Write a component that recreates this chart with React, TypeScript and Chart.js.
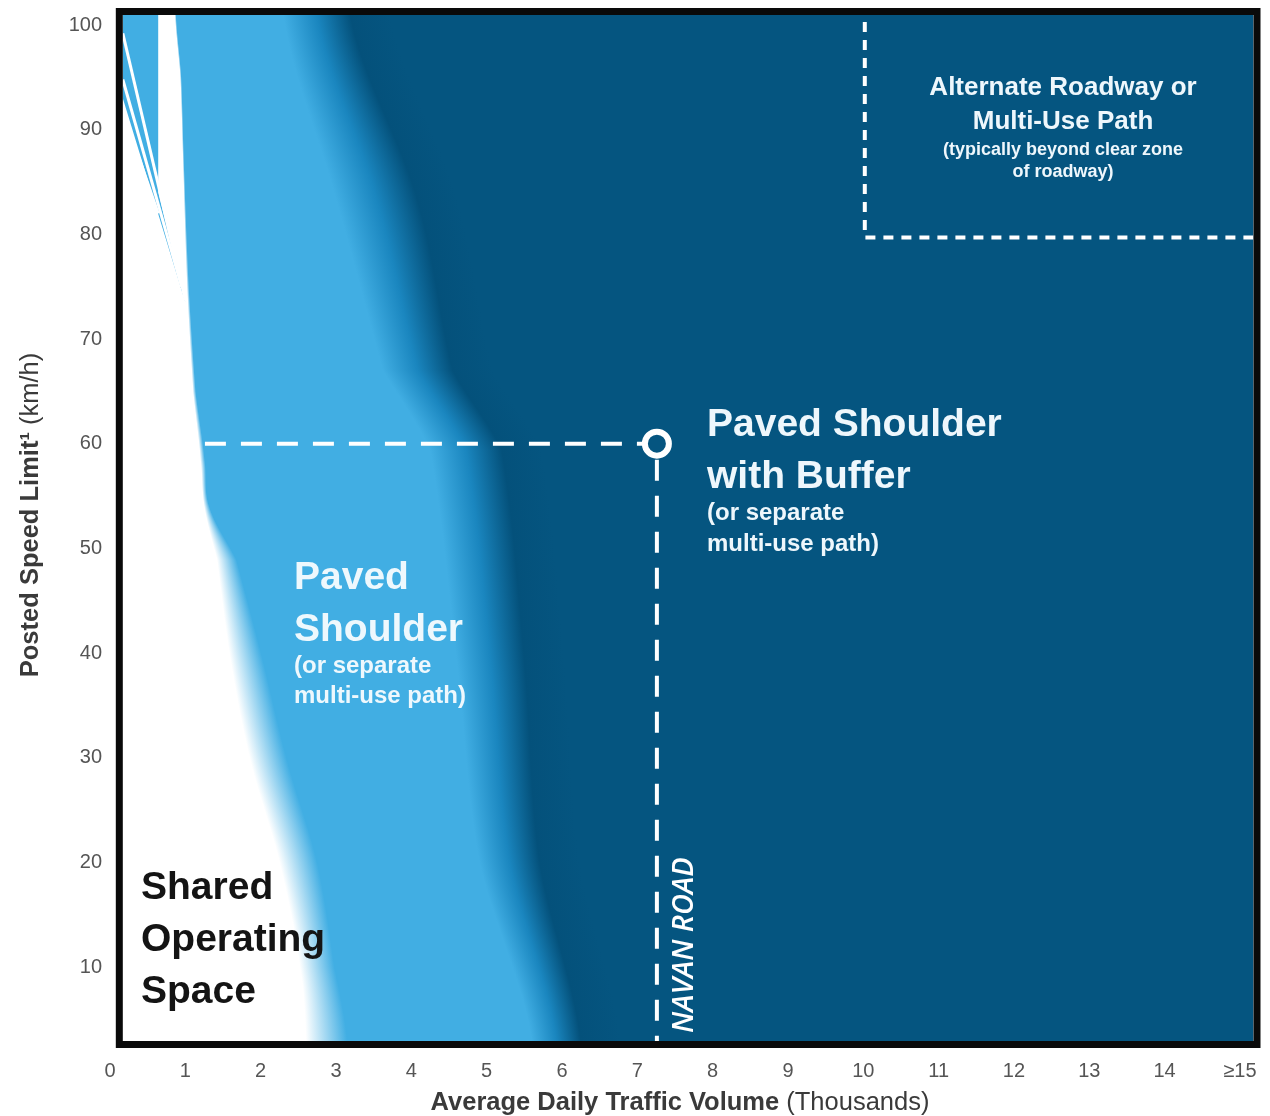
import React, { useEffect, useRef } from "react";
import { Chart, registerables } from "chart.js";

Chart.register(...registerables);

// ---- axis ticks ----
const TRAFFIC_TICKS = [0, 1, 2, 3, 4, 5, 6, 7, 8, 9, 10, 11, 12, 13, 14, 15];
const SPEED_TICKS = [10, 20, 30, 40, 50, 60, 70, 80, 90, 100];

// ---- zone boundaries (speed km/h -> traffic volume, thousands) ----
// white "shared" zone -> light-blue "paved shoulder" zone
const EDGE_SPEED = [2.9, 10, 20, 29.8, 39.3, 48.9, 54, 58.4, 65, 75, 86, 95, 101];
const WHITE_END = [2.6, 2.52, 2.25, 1.86, 1.6, 1.42, 1.25, 1.2, 1.1, 1.02, 0.97, 0.93, 0.86];
const LIGHT_START = [3.15, 2.98, 2.75, 2.35, 2.03, 1.68, 1.32, 1.26, 1.14, 1.05, 0.99, 0.95, 0.88];
// light-blue zone -> dark-blue "paved shoulder with buffer" zone
const DARK_SPEED = [2.9, 20.2, 39.3, 59.4, 67, 83.3, 101];
const LIGHT_END = [5.6, 4.9, 4.6, 4.25, 3.62, 3.0, 2.3];
const DARK_START = [6.25, 5.7, 5.5, 5.2, 4.55, 4.08, 3.19];

// top-left streak artefact of the original graphic
const STREAK_X = [0.17, 0.64, 0.64, 1.0, 0.17];
const STREAK_Y = [101, 101, 84, 73.5, 93];
const STREAK_LINES_X = [[0.17, 1.0], [0.17, 0.95], [0.17, 0.64]];
const STREAK_LINES_Y = [[99.2, 73.7], [94.8, 75], [91.8, 82]];

// ---- Navan Road marker ----
const NAVAN_X = [1.26, 7.26, 7.26];
const NAVAN_Y = [60, 60, 2.93];
// ---- alternate roadway zone outline ----
const ALT_X = [10.02, 10.02, 15.3];
const ALT_Y = [102, 79.7, 79.7];

const X_MIN = 0;
const X_MAX = 15.18;
const Y_MIN = 2.93;
const Y_MAX = 100.96;
const PLOT_X_START = 0.17;

const WHITE = "#ffffff";
const LIGHT = "#41aee3";
const MID = "#1a86bf";
const DARK_EDGE = "#04517b";
const DARK = "#055580";

// smooth (Catmull-Rom) reading of a boundary curve between its sampled points
function curve(xs: number[], ys: number[], v: number): number {
  const n = xs.length;
  if (v <= xs[0]) return ys[0];
  if (v >= xs[n - 1]) return ys[n - 1];
  let i = 0;
  while (i < n - 2 && v > xs[i + 1]) i++;
  const t = (v - xs[i]) / (xs[i + 1] - xs[i]);
  const p0 = ys[Math.max(0, i - 1)];
  const p1 = ys[i];
  const p2 = ys[i + 1];
  const p3 = ys[Math.min(n - 1, i + 2)];
  const t2 = t * t;
  const t3 = t2 * t;
  return 0.5 * (2 * p1 + (-p0 + p2) * t + (2 * p0 - 5 * p1 + 4 * p2 - p3) * t2 + (-p0 + 3 * p1 - 3 * p2 + p3) * t3);
}

const zonesPlugin = {
  id: "zones",
  beforeDatasetsDraw(chart: any) {
    const { ctx, chartArea: ca, scales } = chart;
    const xs = scales.x;
    const ys = scales.y;
    const left = xs.getPixelForValue(PLOT_X_START);
    const W = ca.right - left;
    ctx.save();
    ctx.beginPath();
    ctx.rect(left, ca.top, W, ca.bottom - ca.top);
    ctx.clip();
    const f = (p: number) => Math.min(1, Math.max(0, (p - left) / W));
    const step = 1;
    for (let py = ca.top; py < ca.bottom; py += step) {
      const s = ys.getValueForPixel(py + step / 2);
      const w0 = xs.getPixelForValue(curve(EDGE_SPEED, WHITE_END, s));
      const w1 = xs.getPixelForValue(curve(EDGE_SPEED, LIGHT_START, s));
      const d0 = xs.getPixelForValue(curve(DARK_SPEED, LIGHT_END, s));
      const d1 = xs.getPixelForValue(curve(DARK_SPEED, DARK_START, s));
      const g = ctx.createLinearGradient(left, 0, ca.right, 0);
      const a = f(w0);
      const b = Math.max(a + 0.0005, f(w1));
      const c = Math.max(b + 0.0005, f(d0));
      const e = Math.max(c + 0.001, f(d1));
      const m = c + (e - c) * 0.5;
      const e2 = Math.min(1, e + 40 / W);
      g.addColorStop(0, WHITE);
      g.addColorStop(a, WHITE);
      g.addColorStop(b, LIGHT);
      g.addColorStop(c, LIGHT);
      g.addColorStop(m, MID);
      g.addColorStop(e, DARK_EDGE);
      g.addColorStop(e2, DARK);
      g.addColorStop(1, DARK);
      ctx.fillStyle = g;
      ctx.fillRect(left, py, W, step + 0.6);
    }
    // streak artefact
    ctx.beginPath();
    STREAK_X.forEach((vx, i) => {
      const px = xs.getPixelForValue(vx);
      const py = ys.getPixelForValue(STREAK_Y[i]);
      if (i === 0) ctx.moveTo(px, py);
      else ctx.lineTo(px, py);
    });
    ctx.closePath();
    ctx.fillStyle = LIGHT;
    ctx.fill();
    ctx.strokeStyle = WHITE;
    ctx.lineWidth = 3;
    STREAK_LINES_X.forEach((lx, i) => {
      ctx.beginPath();
      ctx.moveTo(xs.getPixelForValue(lx[0]), ys.getPixelForValue(STREAK_LINES_Y[i][0]));
      ctx.lineTo(xs.getPixelForValue(lx[1]), ys.getPixelForValue(STREAK_LINES_Y[i][1]));
      ctx.stroke();
    });
    ctx.restore();
  },
  afterDraw(chart: any) {
    const { ctx, chartArea: ca, scales } = chart;
    const xs = scales.x;
    ctx.save();
    const SANS = '"Liberation Sans", Arial, sans-serif';
    const lines = (arr: [string, number, number, number][], color: string, align: CanvasTextAlign) => {
      ctx.fillStyle = color;
      ctx.textAlign = align;
      ctx.textBaseline = "alphabetic";
      arr.forEach(([t, size, x, y]) => {
        ctx.font = `bold ${size}px ${SANS}`;
        ctx.fillText(t, x, y);
      });
    };
    lines(
      [
        ["Alternate Roadway or", 26, 1063, 95],
        ["Multi-Use Path", 26, 1063, 129],
        ["(typically beyond clear zone", 18, 1063, 155],
        ["of roadway)", 18, 1063, 177],
      ],
      "#eef7fc",
      "center"
    );
    lines(
      [
        ["Paved Shoulder", 39, 707, 436],
        ["with Buffer", 39, 707, 488],
        ["(or separate", 24, 707, 520],
        ["multi-use path)", 24, 707, 551],
      ],
      "#eef7fc",
      "left"
    );
    lines(
      [
        ["Paved", 39, 294, 589],
        ["Shoulder", 39, 294, 641],
        ["(or separate", 24, 294, 673],
        ["multi-use path)", 24, 294, 703],
      ],
      "#eef8fd",
      "left"
    );
    lines(
      [
        ["Shared", 39, 141, 899],
        ["Operating", 39, 141, 951],
        ["Space", 39, 141, 1003],
      ],
      "#141414",
      "left"
    );

    // NAVAN ROAD vertical label
    ctx.save();
    ctx.translate(693, 1033);
    ctx.rotate(-Math.PI / 2);
    ctx.font = 'italic 600 29px "Open Sans", "DejaVu Sans", sans-serif';
    ctx.fillStyle = "#ffffff";
    ctx.textAlign = "left";
    ctx.fillText("NAVAN ROAD", 0, 0);
    ctx.restore();

    // axis titles (mixed weights)
    const titleColor = "#3a3a3a";
    ctx.fillStyle = titleColor;
    ctx.textAlign = "left";
    const XF = 25.5;
    ctx.font = `bold ${XF}px ${SANS}`;
    const xb = "Average Daily Traffic Volume";
    const wb = ctx.measureText(xb).width;
    ctx.font = `${XF}px ${SANS}`;
    const xr = " (Thousands)";
    const wr = ctx.measureText(xr).width;
    const xc = 680;
    ctx.font = `bold ${XF}px ${SANS}`;
    ctx.fillText(xb, xc - (wb + wr) / 2, 1110);
    ctx.font = `${XF}px ${SANS}`;
    ctx.fillText(xr, xc - (wb + wr) / 2 + wb, 1110);

    ctx.save();
    ctx.translate(38, 515);
    ctx.rotate(-Math.PI / 2);
    const YF = 25.5;
    ctx.font = `bold ${YF}px ${SANS}`;
    const yb = "Posted Speed Limit\u00B9";
    const ywb = ctx.measureText(yb).width;
    ctx.font = `${YF}px ${SANS}`;
    const yr = " (km/h)";
    const ywr = ctx.measureText(yr).width;
    ctx.font = `bold ${YF}px ${SANS}`;
    ctx.fillText(yb, -(ywb + ywr) / 2, 0);
    ctx.font = `${YF}px ${SANS}`;
    ctx.fillText(yr, -(ywb + ywr) / 2 + ywb, 0);
    ctx.restore();

    // frame
    const left = xs.getPixelForValue(PLOT_X_START);
    ctx.strokeStyle = "#0a0a0a";
    ctx.lineWidth = 7;
    ctx.strokeRect(left - 3.5, ca.top - 3.5, ca.right - left + 7, ca.bottom - ca.top + 7);
    ctx.restore();
  },
};

export default function App() {
  const ref = useRef<HTMLCanvasElement>(null);
  useEffect(() => {
    if (!ref.current) return;
    const navan = NAVAN_X.map((x, i) => ({ x, y: NAVAN_Y[i] }));
    const alt = ALT_X.map((x, i) => ({ x, y: ALT_Y[i] }));
    const chart = new Chart(ref.current, {
      type: "scatter",
      data: {
        datasets: [
          {
            data: alt,
            showLine: true,
            borderColor: "#ffffff",
            borderWidth: 4,
            borderDash: [10, 8],
            pointRadius: 0,
            fill: false,
          },
          {
            data: navan,
            showLine: true,
            borderColor: "#ffffff",
            borderWidth: 4,
            borderDash: [21, 15],
            pointRadius: [0, 12, 0],
            pointHoverRadius: [0, 12, 0],
            pointBorderWidth: 6,
            pointBorderColor: "#ffffff",
            pointBackgroundColor: DARK,
            fill: false,
          },
        ] as any,
      },
      options: {
        animation: false,
        responsive: true,
        maintainAspectRatio: false,
        events: [],
        layout: { padding: { top: 15, right: 16.5, left: 0, bottom: 0 } },
        plugins: { legend: { display: false }, tooltip: { enabled: false } },
        scales: {
          x: {
            type: "linear",
            min: X_MIN,
            max: X_MAX,
            grid: { display: false, drawTicks: false },
            border: { display: false },
            afterBuildTicks: (s: any) => {
              s.ticks = TRAFFIC_TICKS.map((v) => ({ value: v }));
            },
            afterFit: (s: any) => {
              s.height = 75;
              s.paddingLeft = 0;
              s.paddingRight = 0;
            },
            ticks: {
              autoSkip: false,
              maxRotation: 0,
              padding: 18,
              color: "#555555",
              font: { family: '"Liberation Sans", Arial, sans-serif', size: 20 },
              callback: (v: any) => (v === 15 ? "\u226515" : String(v)),
            },
          },
          y: {
            type: "linear",
            min: Y_MIN,
            max: Y_MAX,
            grid: { display: false, drawTicks: false },
            border: { display: false },
            afterBuildTicks: (s: any) => {
              s.ticks = SPEED_TICKS.map((v) => ({ value: v }));
            },
            afterFit: (s: any) => {
              s.width = 110;
              s.paddingTop = 0;
              s.paddingBottom = 0;
            },
            ticks: {
              autoSkip: false,
              padding: 8,
              color: "#555555",
              font: { family: '"Liberation Sans", Arial, sans-serif', size: 20 },
            },
          },
        },
      } as any,
      plugins: [zonesPlugin],
    });
    return () => chart.destroy();
  }, []);
  return (
    <div style={{ position: "fixed", left: 0, top: 0, width: 1270, height: 1116, background: "#ffffff" }}>
      <canvas ref={ref} />
    </div>
  );
}
